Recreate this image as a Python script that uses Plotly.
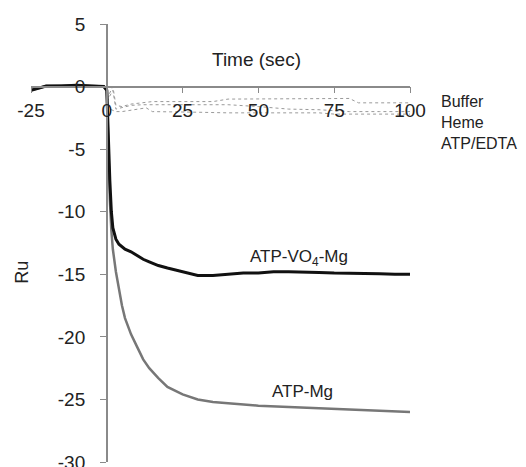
import plotly.graph_objects as go

# ATP-VO4-Mg (black)
t_vo4 = [-25, -22, -20, -15, -10, -5, -1, 0, 0.3, 0.7, 1, 1.5, 2, 3, 4, 6, 8, 10, 12, 14, 17, 20, 25, 30, 35, 40, 45, 50, 55, 60, 65, 70, 75, 80, 85, 90, 95, 100]
v_vo4 = [-0.3, -0.1, 0.05, 0.05, 0.1, 0.05, 0.0, -0.3, -3.0, -6.0, -7.5, -10.0, -11.3, -12.2, -12.6, -13.0, -13.2, -13.5, -13.8, -14.0, -14.3, -14.5, -14.8, -15.1, -15.1, -15.0, -14.9, -14.9, -14.8, -14.8, -14.8, -14.85, -14.9, -14.9, -14.9, -14.95, -15.0, -15.0]

# ATP-Mg (grey)
t_mg = [-25, -20, -10, -1, 0, 0.5, 1, 1.5, 2, 3, 4, 5, 6, 8, 10, 12, 14, 17, 20, 25, 30, 35, 40, 50, 60, 70, 80, 90, 100]
v_mg = [-0.3, 0.05, 0.1, 0.0, -0.3, -5.0, -9.0, -11.5, -13.0, -14.8, -16.3, -17.5, -18.5, -19.8, -20.8, -21.8, -22.5, -23.3, -24.0, -24.6, -25.0, -25.2, -25.3, -25.5, -25.6, -25.7, -25.8, -25.9, -26.0]

# Controls (dotted)
t_buf = [0, 1, 2, 3, 5, 8, 12, 15, 25, 35, 40, 50, 60, 70, 80, 83, 90, 100]
v_buf = [-1.0, -0.5, 0.0, -1.5, -1.6, -1.4, -1.3, -1.2, -1.2, -1.2, -1.0, -1.0, -1.0, -0.95, -0.95, -1.3, -1.3, -1.3]
t_heme = [0, 1, 2, 3, 5, 8, 12, 20, 30, 40, 50, 60, 70, 75, 80, 90, 100]
v_heme = [-1.2, -0.8, -0.3, -1.8, -1.7, -1.5, -1.45, -1.45, -1.45, -1.45, -1.6, -1.8, -1.85, -1.9, -2.0, -2.0, -2.0]
t_edta = [0, 1, 2, 3, 5, 8, 10, 13, 15, 20, 30, 40, 50, 60, 70, 75, 80, 90, 100]
v_edta = [-1.5, -1.8, -1.9, -2.0, -2.0, -1.9, -1.8, -1.7, -2.0, -2.0, -2.05, -2.1, -2.1, -2.1, -2.1, -2.2, -2.2, -2.2, -2.2]

x_ticks = [-25, 0, 25, 50, 75, 100]
x_ticktext = ["-25", "0", "25", "50", "75", "100"]
y_ticks = [5, 0, -5, -10, -15, -20, -25, -30]
y_ticktext = ["5", "0", "-5", "-10", "-15", "-20", "-25", "-30"]
control_labels = ["Buffer", "Heme", "ATP/EDTA"]

FONT = "Liberation Sans, Arial, sans-serif"

fig = go.Figure()
for t, v in [(t_buf, v_buf), (t_heme, v_heme), (t_edta, v_edta)]:
    fig.add_trace(go.Scatter(x=t, y=v, mode="lines",
                             line=dict(color="#9a9a9a", width=1, dash="dot")))
fig.add_trace(go.Scatter(x=t_mg, y=v_mg, mode="lines",
                         line=dict(color="#777777", width=2.5)))
fig.add_trace(go.Scatter(x=t_vo4, y=v_vo4, mode="lines",
                         line=dict(color="#111111", width=3)))

fig.update_layout(
    width=518, height=459,
    margin=dict(l=23, r=116, t=16, b=5, autoexpand=False),
    plot_bgcolor="white", paper_bgcolor="white",
    showlegend=False,
    font=dict(family=FONT, color="#222222", size=16),
    xaxis=dict(range=[-25, 100], tickvals=x_ticks, ticktext=x_ticktext,
               showgrid=False, zeroline=False, automargin=False,
               showline=True, linecolor="#8a8a8a", linewidth=1.5,
               ticks="outside", ticklen=6, tickcolor="#8a8a8a",
               anchor="free", position=30 / 35, ticklabelstandoff=1,
               ticklabeloverflow="allow", tickfont=dict(size=19)),
    yaxis=dict(range=[-30, 5], tickvals=y_ticks, ticktext=y_ticktext,
               showgrid=False, zeroline=False, automargin=False,
               showline=True, linecolor="#8a8a8a", linewidth=1.5,
               ticks="outside", ticklen=6, tickcolor="#8a8a8a",
               anchor="free", position=25 / 125, ticklabelstandoff=11,
               ticklabeloverflow="allow", tickfont=dict(size=19)),
)

fig.add_annotation(x=0.596, y=0.918, xref="paper", yref="paper", text="Time (sec)",
                   xanchor="center", yanchor="middle", showarrow=False,
                   font=dict(size=19))
fig.add_annotation(x=-0.024, y=0.434, xref="paper", yref="paper", text="Ru",
                   xanchor="center", yanchor="middle",
                   textangle=-90, showarrow=False, font=dict(size=18))
fig.add_annotation(x=63.5, y=-13.7, text="ATP-VO<sub>4</sub>-Mg", showarrow=False,
                   font=dict(size=17))
fig.add_annotation(x=64.5, y=-24.4, text="ATP-Mg", showarrow=False, font=dict(size=17))
for lab, yy in zip(control_labels, [0.823, 0.776, 0.728]):
    fig.add_annotation(x=1.076, y=yy, xref="paper", yref="paper", text=lab,
                       xanchor="left", yanchor="middle", showarrow=False,
                       font=dict(size=16))

fig.write_html("out.html")
